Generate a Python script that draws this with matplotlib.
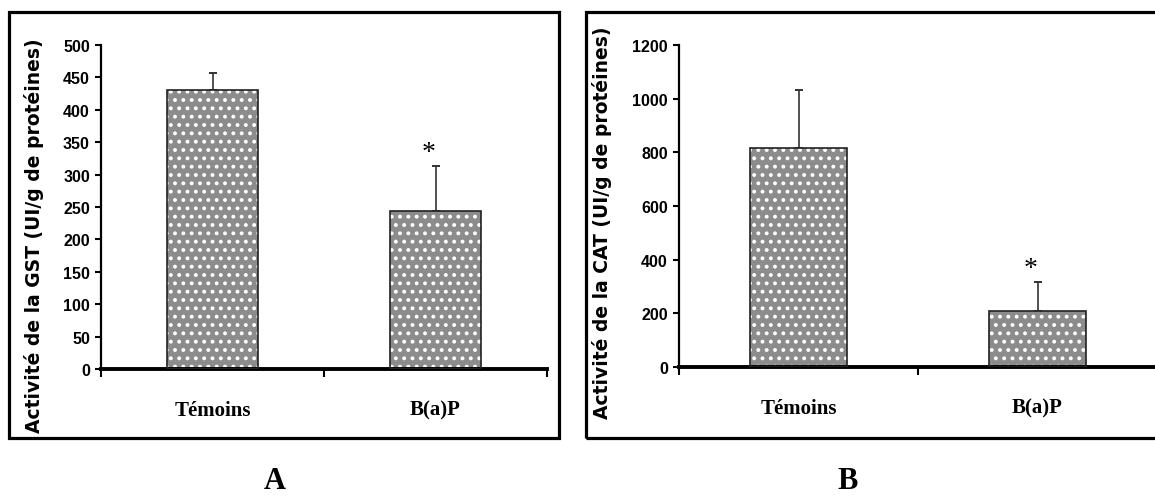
import matplotlib
matplotlib.use('Agg')
from matplotlib import pyplot as plt
from matplotlib.patches import Rectangle

groups = ['Témoins', 'B(a)P']
gst_means = [430, 244]
gst_sem = [27, 69]
cat_means = [815, 210]
cat_sem = [217, 105]

plt.rcParams['hatch.linewidth'] = 1.6

fig = plt.figure(figsize=(11.55, 5.02), dpi=100)
W, H = 1155.0, 502.0


def px_axes(x0, y0, x1, y1):
    return fig.add_axes([x0 / W, 1 - y1 / H, (x1 - x0) / W, (y1 - y0) / H])


def frame(x0, y0, x1, y1):
    fig.patches.append(Rectangle((x0 / W, 1 - y1 / H), (x1 - x0) / W, (y1 - y0) / H,
                                 transform=fig.transFigure, fill=False,
                                 edgecolor='black', linewidth=2.3, clip_on=False))


def bar_panel(ax, means, sem, ymax, step, ylabel):
    pos = [0.5, 1.5]
    # dotted fill first, then the outline on top
    ax.bar(pos, means, width=0.405, color='#8c8c8c', hatch='..',
           edgecolor='white', linewidth=0, zorder=2)
    ax.bar(pos, means, width=0.405, fill=False, edgecolor='#222222',
           linewidth=1.2, zorder=3)
    ax.errorbar(pos, means, yerr=[[0, 0], sem], fmt='none', ecolor='#333333',
                elinewidth=1.2, capsize=3, capthick=1.4, zorder=1)
    ax.set_xlim(0, 2)
    ax.set_ylim(0, ymax)
    ax.set_yticks(range(0, ymax + 1, step))
    ax.set_xticks([0, 1, 2])
    ax.set_xticklabels([])
    ax.set_xticks(pos, minor=True)
    ax.set_xticklabels(groups, minor=True, fontfamily='Liberation Serif',
                       fontweight='bold', fontsize=15)
    ax.tick_params(axis='x', which='minor', length=0, pad=22)
    ax.tick_params(axis='x', which='major', length=6, width=1.5, direction='out')
    ax.tick_params(axis='y', length=4, width=1.5, pad=4)
    for t in ax.get_yticklabels():
        t.set_fontfamily(['Liberation Sans Narrow', 'Liberation Sans'])
        t.set_fontweight('bold')
        t.set_fontsize(11.5)
    ax.spines['top'].set_visible(False)
    ax.spines['right'].set_visible(False)
    ax.spines['left'].set_linewidth(1.6)
    ax.spines['bottom'].set_linewidth(2.8)
    ax.set_ylabel(ylabel, fontfamily='DejaVu Sans', fontweight='bold',
                  fontsize=13.5)
    # significance mark above the treated group
    ax.text(pos[1] - 0.03, means[1] + sem[1] + ymax * 0.005, '*',
            fontfamily='Liberation Serif', fontsize=20, ha='center', va='bottom')


# panel A: GST
frame(9, 13, 559, 439)
ax1 = px_axes(101, 46, 547, 370)
bar_panel(ax1, gst_means, gst_sem, 500, 50,
          'Activité de la GST (UI/g de protéines)')
ax1.yaxis.set_label_coords(-(101 - 44) / 446.0, (370 - 236) / 324.0)

# panel B: CAT
frame(586, 13, 1170, 439)
ax2 = px_axes(679, 46, 1157, 368)
bar_panel(ax2, cat_means, cat_sem, 1200, 200,
          'Activité de la CAT (UI/g de protéines)')
ax2.yaxis.set_label_coords(-(679 - 612) / 478.0, (368 - 223) / 322.0)

fig.text(275 / W, 1 - 482 / H, 'A', fontfamily='Liberation Serif',
         fontweight='bold', fontsize=22, ha='center', va='center')
fig.text(848 / W, 1 - 482 / H, 'B', fontfamily='Liberation Serif',
         fontweight='bold', fontsize=22, ha='center', va='center')

fig.savefig('out.png', dpi=100)
